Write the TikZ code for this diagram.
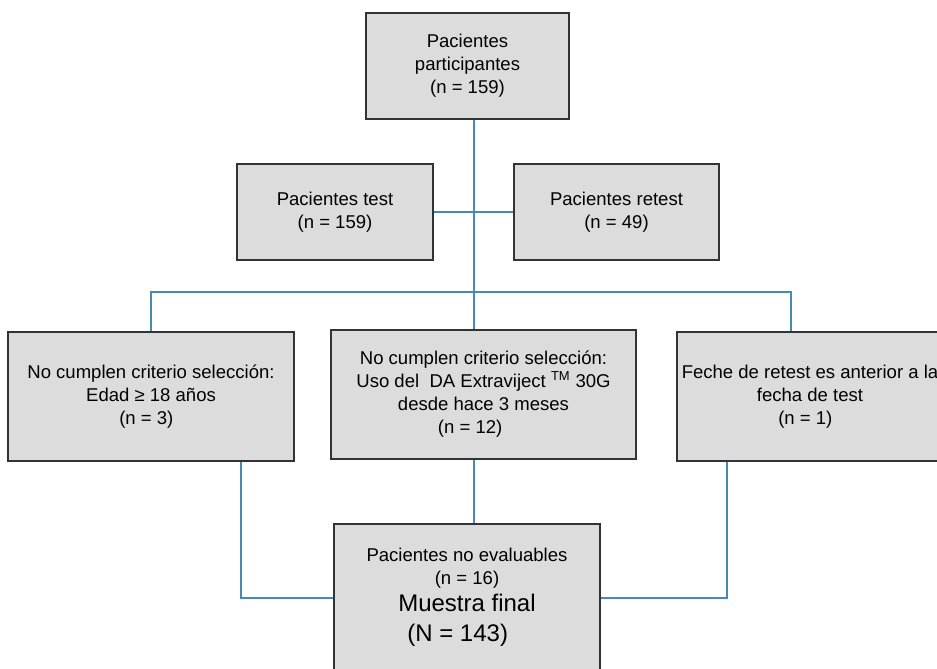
\documentclass[tikz,border=0pt]{standalone}
\usepackage{fontspec}
\setmainfont{Liberation Sans}
\definecolor{linkblue}{RGB}{70,140,178}
\definecolor{boxgray}{RGB}{220,220,220}

\begin{document}
\begin{tikzpicture}[x=0.75pt,y=-0.75pt,
        box/.style={draw=black!80,fill=boxgray,line width=1.1pt,inner sep=0pt,align=center,
            font=\fontsize{13.9pt}{17.25pt}\selectfont},
        link/.style={draw=linkblue,line width=1.1pt}]
        \useasboundingbox (0,0) rectangle (937,668);
        \begin{scope}
        \clip (0,0) rectangle (937,668);

        \node[box,minimum width=152.25pt,minimum height=79.5pt] (part) at (467.5,66)
            {Pacientes\\participantes\\(n = 159)};
        \node[box,minimum width=147pt,minimum height=72pt] (test) at (335,212)
            {Pacientes test\\(n = 159)};
        \node[box,minimum width=153.75pt,minimum height=72pt] (retest) at (616.5,212)
            {Pacientes retest\\(n = 49)};

        \node[box,minimum width=214.5pt,minimum height=96.75pt] (edad) at (151,396.5)
            {No cumplen criterio selección:\\Edad ≥ 18 años\\(n = 3)\hspace*{7pt}};
        \node[box,minimum width=228.75pt,minimum height=96.75pt] (uso) at (483.5,394.5)
            {No cumplen criterio selección:\\Uso del\ \ DA Extraviject \textsuperscript{TM} 30G\\desde hace 3 meses\\(n = 12)\hspace*{20pt}};
        \node[box,minimum width=199.5pt,minimum height=96.75pt] (fecha) at (810,396.5)
            {Feche de retest es anterior a la\\fecha de test\\(n = 1)\hspace*{7pt}};

        \node[box,minimum width=199.5pt,minimum height=135pt,text depth=29pt] (final) at (467,614)
            {Pacientes no evaluables\\(n = 16)\\[3pt]{\fontsize{18pt}{21.75pt}\selectfont Muestra final}\\[5pt]
             {\fontsize{18pt}{21.75pt}\selectfont (N = 143)\hspace*{14pt}}};

        \coordinate (hub) at (474,292);
        \coordinate (bl) at (151,292);
        \coordinate (br) at (791,292);
        \coordinate (jl) at (241,598);
        \coordinate (jr) at (727,598);

        \draw[link] (part.south -| hub) -- (hub);
        \draw[link] (test.east) -- (retest.west);
        \draw[link] (edad.north -| bl) -- (bl) -- (br) -- (br |- fecha.north);
        \draw[link] (hub) -- (hub |- uso.north);

        \draw[link] (jl |- edad.south) -- (jl) -- (final.west |- jl);
        \draw[link] (hub |- uso.south) -- (hub |- final.north);
        \draw[link] (jr |- fecha.south) -- (jr) -- (final.east |- jr);
        \end{scope}
    \end{tikzpicture}
\end{document}
